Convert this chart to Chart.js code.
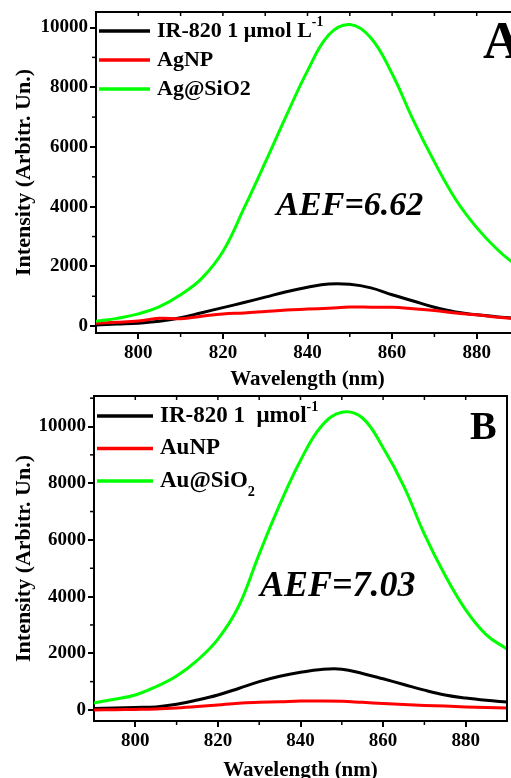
<!DOCTYPE html>
<html>
<head>
<meta charset="utf-8">
<script src="https://cdn.jsdelivr.net/npm/chart.js@4.4.1/dist/chart.umd.min.js"></script>
<style>
html, body { margin: 0; padding: 0; background: #fff; overflow: hidden; }
#wrap { position: relative; width: 511px; height: 778px; overflow: hidden; }
#chartA { position: absolute; left: 0; top: 0; }
#chartB { position: absolute; left: 0; top: 392px; }
</style>
</head>
<body>
<div id="wrap">
  <canvas id="chartA" width="530" height="392"></canvas>
  <canvas id="chartB" width="511" height="391"></canvas>
</div>
<script>
// wavelength grid (nm)
const wavelengths = [790, 795, 800, 805, 810, 815, 820, 825, 830, 835, 840, 845, 850, 855, 860, 865, 870, 875, 880, 885, 890];

// panel A
const irA   = [40, 70, 100, 160, 280, 450, 620, 790, 970, 1150, 1300, 1410, 1400, 1280, 1050, 840, 630, 470, 380, 310, 250];
const agNP  = [100, 130, 170, 260, 250, 330, 410, 440, 490, 540, 570, 600, 640, 635, 630, 580, 520, 440, 380, 300, 250];
const agSiO = [160, 260, 410, 650, 1050, 1600, 2500, 3950, 5480, 7050, 8550, 9750, 10100, 9650, 8450, 6900, 5500, 4250, 3300, 2550, 1950];

// panel B
const irB   = [50, 70, 90, 110, 200, 350, 530, 760, 1000, 1190, 1330, 1430, 1440, 1290, 1100, 900, 700, 530, 420, 340, 280];
const auNP  = [0, 10, 20, 35, 70, 120, 180, 240, 270, 290, 315, 320, 310, 270, 230, 190, 160, 140, 110, 90, 70];
const auSiO = [250, 380, 530, 820, 1200, 1750, 2500, 3650, 5500, 7250, 8800, 10000, 10500, 10300, 9250, 7900, 6200, 4750, 3530, 2650, 2150];

const labelsA = ['IR-820 1 μmol L^{-1}', 'AgNP', 'Ag@SiO2'];
const labelsB = ['IR-820 1  μmol^{-1}', 'AuNP', 'Au@SiO_{2}'];
const colors = ['#000000', '#ff0000', '#00ff00'];

const xTicks = [800, 820, 840, 860, 880];
const xMinorTicks = [810, 830, 850, 870];
const yTicks = [0, 2000, 4000, 6000, 8000, 10000];
const yMinorTicks = [1000, 3000, 5000, 7000, 9000, 11000];

const SERIF = '"Liberation Serif", "Times New Roman", serif';

function toPoints(values) {
    return wavelengths.map((w, i) => ({ x: w, y: values[i] }));
}

// draws text with ^{sup} and _{sub} parts
function drawRich(ctx, text, x, y, size) {
    const parts = text.split(/(\^\{[^}]*\}|_\{[^}]*\})/).filter(Boolean);
    parts.forEach(p => {
        let s = size, dy = 0, t = p;
        if (p.startsWith('^{')) { s = size * 0.62; dy = -size * 0.37; t = p.slice(2, -1); }
        else if (p.startsWith('_{')) { s = size * 0.62; dy = size * 0.48; t = p.slice(2, -1); }
        ctx.font = `bold ${s}px ${SERIF}`;
        ctx.fillText(t, x, y + dy);
        x += ctx.measureText(t).width;
    });
}

const panelDecor = {
    id: 'panelDecor',
    afterDraw(chart, args, opts) {
        const { ctx, chartArea: a, scales: { x, y } } = chart;
        const tick = (x1, y1, x2, y2) => { ctx.beginPath(); ctx.moveTo(x1, y1); ctx.lineTo(x2, y2); ctx.stroke(); };
        ctx.save();
        ctx.strokeStyle = '#000';
        ctx.lineWidth = 2;
        // frame top + right
        ctx.beginPath();
        ctx.moveTo(a.left, a.top);
        ctx.lineTo(a.right, a.top);
        ctx.lineTo(a.right, a.bottom);
        ctx.stroke();

        ctx.lineWidth = 1.5;
        xMinorTicks.forEach(v => {
            const px = x.getPixelForValue(v);
            tick(px, a.bottom, px, a.bottom + 4);
        });
        yMinorTicks.forEach(v => {
            if (v > y.max) return;
            const py = y.getPixelForValue(v);
            tick(a.left - 4, py, a.left, py);
        });
        xTicks.concat(xMinorTicks).forEach(v => {
            const px = x.getPixelForValue(v);
            tick(px, a.top, px, a.top + 4);
        });

        // legend
        const lg = opts.legend;
        ctx.textAlign = 'left';
        ctx.textBaseline = 'middle';
        chart.data.datasets.forEach((ds, i) => {
            const ly = a.top + lg.top + i * lg.gap;
            ctx.strokeStyle = ds.borderColor;
            ctx.lineWidth = 3.5;
            tick(a.left + 3, ly, a.left + 3 + lg.lineLen, ly);
            ctx.fillStyle = '#000';
            drawRich(ctx, ds.label, a.left + 3 + lg.lineLen + 7, ly, lg.size);
        });

        // AEF annotation
        ctx.fillStyle = '#000';
        ctx.textAlign = 'center';
        ctx.font = `italic bold ${opts.aef.size}px ${SERIF}`;
        ctx.fillText(opts.aef.text, x.getPixelForValue(opts.aef.x), y.getPixelForValue(opts.aef.y));

        // panel letter
        ctx.textAlign = 'left';
        ctx.textBaseline = 'alphabetic';
        ctx.font = `bold ${opts.letter.size}px ${SERIF}`;
        ctx.fillText(opts.letter.text, a.right + opts.letter.dx, a.top + opts.letter.dy);
        ctx.restore();
    }
};

function makeChart(id, series, labels, cfg) {
    const ctx = document.getElementById(id).getContext('2d');
    const datasets = series.map((vals, i) => ({
        label: labels[i],
        data: toPoints(vals),
        borderColor: colors[i],
        borderWidth: 3,
        pointRadius: 0,
        tension: 0.4,
        order: 3 - i
    }));

    const tickFont = { family: SERIF, weight: 'bold', size: 19 };

    new Chart(ctx, {
        type: 'line',
        data: { datasets: datasets },
        options: {
            responsive: false,
            animation: false,
            layout: { padding: cfg.padding },
            plugins: {
                legend: { display: false },
                tooltip: { enabled: false },
                panelDecor: cfg.decor
            },
            scales: {
                x: {
                    type: 'linear',
                    min: 790,
                    max: 890,
                    afterBuildTicks: s => { s.ticks = xTicks.map(v => ({ value: v })); },
                    afterFit: s => { s.height = cfg.xHeight; s.paddingLeft = 0; s.paddingRight = 0; },
                    border: { color: '#000', width: 2 },
                    grid: { drawOnChartArea: false, color: '#000', lineWidth: 2, tickLength: 6 },
                    ticks: { color: '#000', font: tickFont, padding: 3, maxRotation: 0 },
                    title: {
                        display: true,
                        text: 'Wavelength (nm)',
                        color: '#000',
                        font: { family: SERIF, weight: 'bold', size: 21 },
                        padding: 0
                    }
                },
                y: {
                    min: cfg.yMin,
                    max: cfg.yMax,
                    afterBuildTicks: s => { s.ticks = yTicks.map(v => ({ value: v })); },
                    afterFit: s => { s.width = cfg.yWidth; s.paddingTop = 0; s.paddingBottom = 0; },
                    border: { color: '#000', width: 2 },
                    grid: { drawOnChartArea: false, color: '#000', lineWidth: 2, tickLength: 6 },
                    ticks: { color: '#000', font: tickFont, padding: 2, callback: v => String(v) },
                    title: {
                        display: true,
                        text: 'Intensity (Arbitr. Un.)',
                        color: '#000',
                        font: { family: SERIF, weight: 'bold', size: 22 },
                        padding: { top: 11, bottom: 0 }
                    }
                }
            }
        },
        plugins: [panelDecor]
    });
}

makeChart('chartA', [irA, agNP, agSiO], labelsA, {
    padding: { top: 12, right: 11, left: 0, bottom: 0 },
    xHeight: 59,
    yWidth: 96,
    yMin: -230,
    yMax: 10520,
    decor: {
        legend: { top: 19, gap: 29, lineLen: 51, size: 22 },
        aef: { text: 'AEF=6.62', x: 850, y: 4000, size: 34 },
        letter: { text: 'A', size: 53, dx: -36, dy: 46 }
    }
});

makeChart('chartB', [irB, auNP, auSiO], labelsB, {
    padding: { top: 4, right: 4, left: 0, bottom: 0 },
    xHeight: 62,
    yWidth: 94,
    yMin: -388,
    yMax: 11076,
    decor: {
        legend: { top: 20, gap: 32.5, lineLen: 56, size: 23 },
        aef: { text: 'AEF=7.03', x: 849, y: 4340, size: 36 },
        letter: { text: 'B', size: 40, dx: -37, dy: 43 }
    }
});
</script>
</body>
</html>
